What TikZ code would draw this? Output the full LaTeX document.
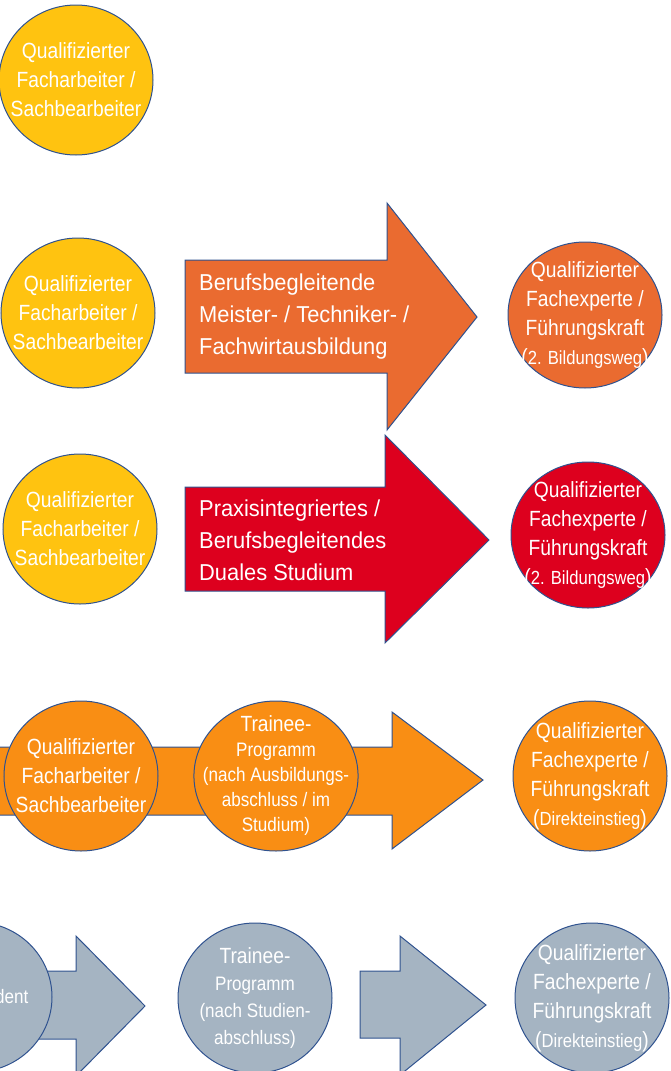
\documentclass[tikz,border=0pt]{standalone}
\usepackage{fontspec}
\setmainfont{Liberation Sans}[FakeStretch=0.875]
\newfontfamily\pfeilfont{Liberation Sans}[FakeStretch=0.95]
\usepackage{tikz}
\usetikzlibrary{shapes.geometric}

\definecolor{rand}{HTML}{2F528F}
\definecolor{gelb}{HTML}{FFC310}
\definecolor{orangeM}{HTML}{EA6B30}
\definecolor{rotS}{HTML}{DD001E}
\definecolor{orangeT}{HTML}{F98E14}
\definecolor{grau}{HTML}{A5B4C2}

\newcommand{\klammertext}[1]{(\begingroup\fontsize{19}{29}\selectfont #1\endgroup)}

\tikzset{
        base/.style={draw=rand, line width=1pt},
        kreis/.style={base, ellipse, minimum width=154pt, minimum height=150pt,
                      inner sep=-15pt, align=center, text=white,
                      font=\fontsize{22}{29}\selectfont},
        trainee/.style={kreis, font=\fontsize{19.5}{25}\selectfont},
        pfeil/.style={base},
        pfeiltext/.style={anchor=west, align=left, text=white, inner sep=0pt,
                          font=\pfeilfont\fontsize{23}{32}\selectfont},
 }

\begin{document}
\begin{tikzpicture}[x=1pt, y=-1pt]
    \useasboundingbox (0,0) rectangle (670,1071);
    \clip (0,0) rectangle (670,1071);

    % Zeile 1
    \node[kreis, fill=gelb] (fa1) at (76,80) {Qualifizierter\\Facharbeiter /\\Sachbearbeiter};

    % Zeile 2: Meister / Techniker / Fachwirt
    \node[kreis, fill=gelb] (fa2) at (78,313) {Qualifizierter\\Facharbeiter /\\Sachbearbeiter};
    \draw[pfeil, fill=orangeM] (185,260) -- (387,260) -- (387,203) -- (477,317)
        -- (387,430) -- (387,373) -- (185,373) -- cycle;
    \node[pfeiltext] (meister) at (199,317) {Berufsbegleitende\\Meister- / Techniker- /\\Fachwirtausbildung};
    \node[kreis, fill=orangeM, minimum height=146pt] (fx2) at (585,315) {Qualifizierter\\Fachexperte /\\Führungskraft\\\klammertext{2. Bildungsweg}};

    % Zeile 3: duales Studium
    \node[kreis, fill=gelb] (fa3) at (80,529) {Qualifizierter\\Facharbeiter /\\Sachbearbeiter};
    \draw[pfeil, fill=rotS] (185,487) -- (385,487) -- (385,435) -- (489,540)
        -- (385,643) -- (385,591) -- (185,591) -- cycle;
    \node[pfeiltext] (dual) at (199,540) {Praxisintegriertes /\\Berufsbegleitendes\\Duales Studium};
    \node[kreis, fill=rotS, minimum height=146pt] (fx3) at (588,535) {Qualifizierter\\Fachexperte /\\Führungskraft\\\klammertext{2. Bildungsweg}};

    % Zeile 4: Trainee nach Ausbildung
    \draw[pfeil, fill=orangeT] (-5,747) -- (392,747) -- (392,712) -- (483,780)
        -- (392,849) -- (392,815) -- (-5,815) -- cycle;
    \node[kreis, fill=orangeT] (fa4) at (81,776) {Qualifizierter\\Facharbeiter /\\Sachbearbeiter};
    \node[trainee, fill=orangeT] (tr4) at (276,776) {{\fontsize{22}{25}\selectfont Trainee-}\\Programm\\(nach Ausbildungs-\\abschluss / im\\Studium)};
    \node[kreis, fill=orangeT] (fx4) at (590,776) {Qualifizierter\\Fachexperte /\\Führungskraft\\\klammertext{Direkteinstieg}};

    % Zeile 5: Trainee nach Studium
    \draw[pfeil, fill=grau] (20,971) -- (76,971) -- (76,936) -- (145,1006)
        -- (76,1076) -- (76,1039) -- (20,1039) -- cycle;
    \node[trainee, fill=grau] (st5) at (-25,997) {\hspace*{48pt}Student};
    \node[trainee, fill=grau, font=\fontsize{19.5}{27}\selectfont] (tr5) at (255,998) {{\fontsize{22}{27}\selectfont Trainee-}\\Programm\\(nach Studien-\\abschluss)};
    \draw[pfeil, fill=grau] (360,971) -- (400,971) -- (400,936) -- (486,1005)
        -- (400,1075) -- (400,1038) -- (360,1038) -- cycle;
    \node[kreis, fill=grau] (fx5) at (592,998) {Qualifizierter\\Fachexperte /\\Führungskraft\\\klammertext{Direkteinstieg}};
\end{tikzpicture}
\end{document}
